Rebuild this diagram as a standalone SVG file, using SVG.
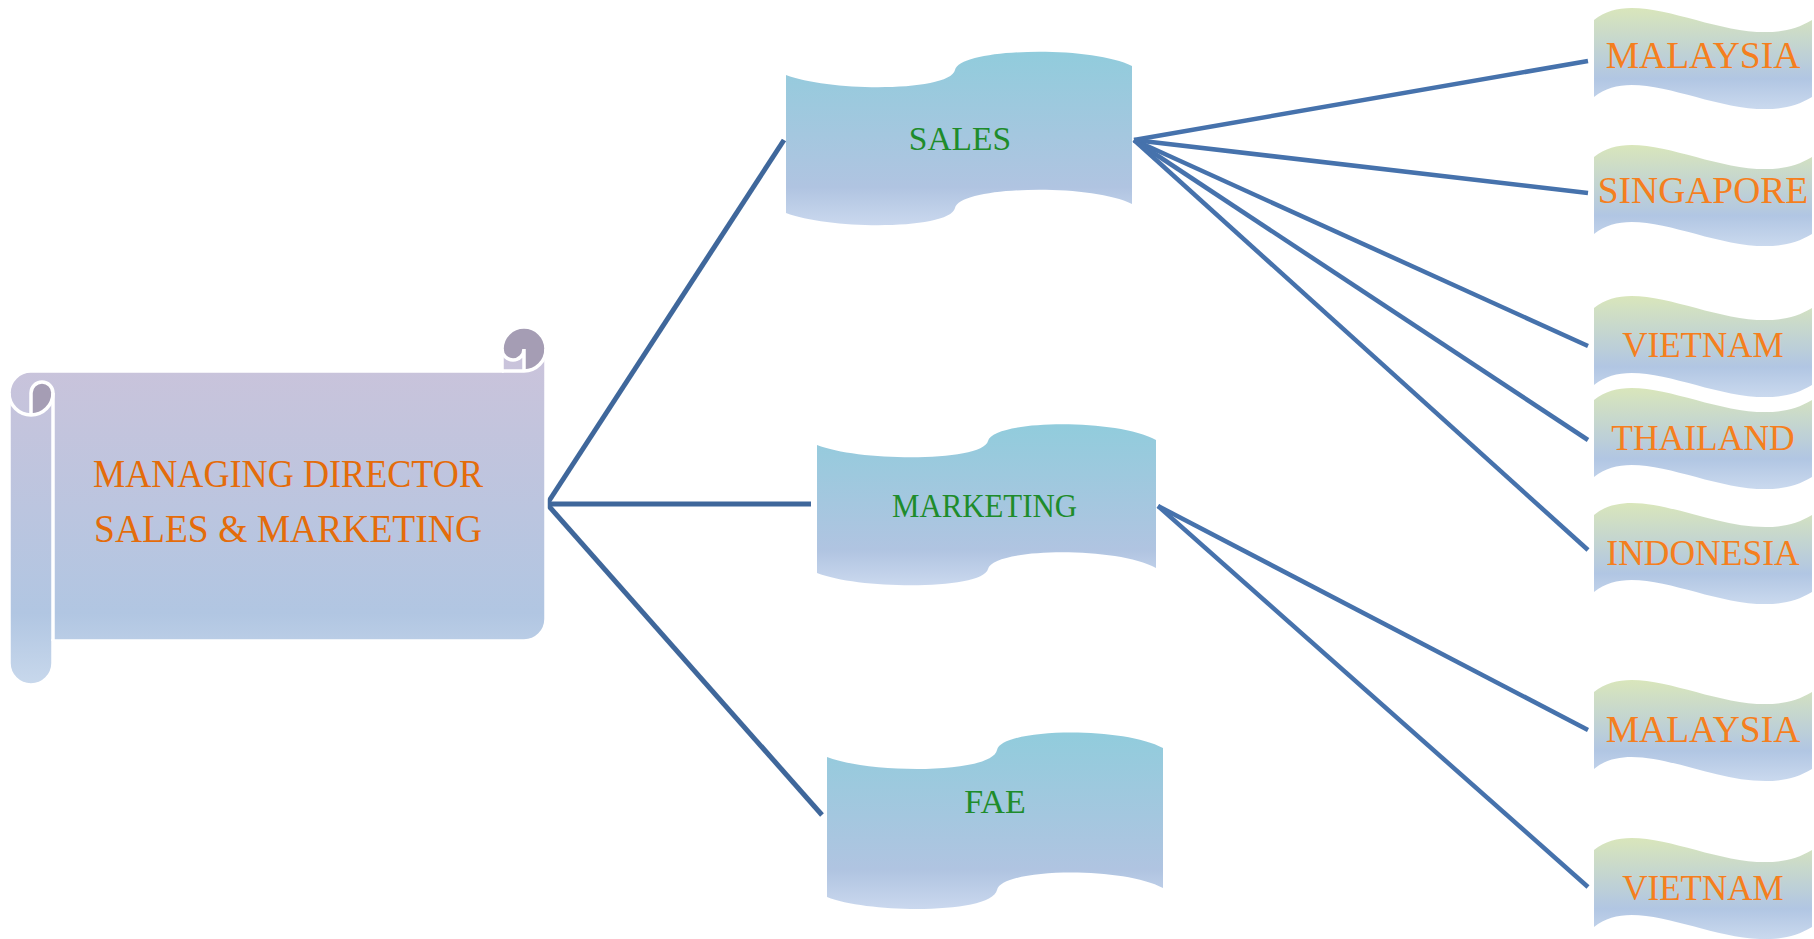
<svg xmlns="http://www.w3.org/2000/svg" width="1814" height="939" viewBox="0 0 1814 939">
<defs>
<linearGradient id="gScroll" gradientUnits="userSpaceOnUse" x1="0" y1="327" x2="0" y2="685">
<stop offset="0" stop-color="#CDC3DA"/>
<stop offset="0.8" stop-color="#B1C6E2"/>
<stop offset="1" stop-color="#C8D8EC"/>
</linearGradient>
<linearGradient id="gTape" x1="0" y1="0" x2="0" y2="1">
<stop offset="0" stop-color="#91CCDC"/>
<stop offset="0.78" stop-color="#B0C4E1"/>
<stop offset="1" stop-color="#CAD8EE"/>
</linearGradient>
<linearGradient id="gWave" x1="0" y1="0" x2="0" y2="1">
<stop offset="0" stop-color="#D9E6BB"/>
<stop offset="0.7" stop-color="#B1C6E3"/>
<stop offset="1" stop-color="#CAD9EE"/>
</linearGradient>
<style>
.md{font-family:"Liberation Serif","Times New Roman",serif;font-size:39px;fill:#E46C0A}
.dept{font-family:"Liberation Serif","Times New Roman",serif;fill:#1E8C2B;text-anchor:middle}
.cty{font-family:"Liberation Serif","Times New Roman",serif;fill:#F57F1E;text-anchor:middle}
.cL{stroke:#3F679B;stroke-width:5;fill:none}
.cR{stroke:#4672AC;stroke-width:4.5;fill:none}
.tape{fill:url(#gTape)}
.wave{fill:url(#gWave)}
.dark{fill:#A59DB4}
.ol{fill:none;stroke:#FFFFFF;stroke-width:3.5}
</style>
</defs>
<rect width="1814" height="939" fill="#FFFFFF"/>
<g id="connectors">
<path class="cL" d="M547,504 L784,140"/>
<path class="cL" d="M547,504 L811,504"/>
<path class="cL" d="M547,504 L822,815"/>
<path class="cR" d="M1134,140 L1588,61"/>
<path class="cR" d="M1134,140 L1588,193"/>
<path class="cR" d="M1134,140 L1588,346"/>
<path class="cR" d="M1134,140 L1588,440"/>
<path class="cR" d="M1134,140 L1588,550"/>
<path class="cR" d="M1158,506 L1588,730"/>
<path class="cR" d="M1158,506 L1588,887"/>
</g>
<g id="md">
<path fill="url(#gScroll)" d="M31,371 H502 V349 A22,22 0 0 1 546,349 V619 A22,22 0 0 1 524,641 H53 V663 A22,22 0 0 1 9,663 V393 A22,22 0 0 1 31,371 Z"/>
<path class="dark" d="M31,415 A22,22 0 0 0 53,393 A11,11 0 0 0 31,393 Z"/>
<path class="dark" d="M524,371 A22,22 0 1 0 502,349 A11,11 0 0 0 524,349 Z"/>
<path class="ol" d="M9,393 A22,22 0 0 1 31,371 H502 V349 A22,22 0 0 1 546,349 V619 A22,22 0 0 1 524,641 H53 V663 A22,22 0 0 1 9,663 Z"/>
<path class="ol" d="M502,371 H524 A22,22 0 0 0 546,349"/>
<path class="ol" d="M524,371 V349 A11,11 0 0 1 502,349"/>
<path class="ol" d="M31,415 V393 A11,11 0 0 1 53,393 A22,22 0 0 1 9,393"/>
<path class="ol" d="M53,393 V641"/>
<text class="md" x="93" y="487" textLength="390" lengthAdjust="spacingAndGlyphs">MANAGING DIRECTOR</text>
<text class="md" x="94" y="542" textLength="388" lengthAdjust="spacingAndGlyphs">SALES &amp; MARKETING</text>
</g>
<g id="sales">
<path class="tape" d="M786,75 C830,92 950,92 955,70 C960,48 1090,45 1132,66 L1132,204 C1090,183 960,186 955,208 C950,230 830,230 786,213 Z"/>
<text class="dept" x="960" y="150" font-size="33.5">SALES</text>
</g>
<g id="marketing">
<path class="tape" d="M817,445 C860,462 983,462 988,441 C993,420 1115,418 1156,440 L1156,568 C1115,546 993,548 988,569 C983,590 860,590 817,573 Z"/>
<text x="892" y="517" font-size="34" fill="#1E8C2B" font-family="Liberation Serif, Times New Roman, serif" textLength="185" lengthAdjust="spacingAndGlyphs">MARKETING</text>
</g>
<g id="fae">
<path class="tape" d="M827,757 C870,774 992,774 997,750 C1002,728 1122,726 1163,748 L1163,888 C1122,866 1002,868 997,890 C992,914 870,914 827,897 Z"/>
<text class="dept" x="995" y="813" font-size="34">FAE</text>
</g>
<g id="malaysia1">
<path class="wave" d="M1594,20 C1644,-22 1744,62 1812,20 L1812,97 C1744,139 1644,55 1594,97 Z"/>
<text class="cty" x="1703" y="68" font-size="37.5">MALAYSIA</text>
</g>
<g id="singapore">
<path class="wave" d="M1594,157 C1644,115 1744,199 1812,157 L1812,234 C1744,276 1644,192 1594,234 Z"/>
<text class="cty" x="1703" y="203" font-size="37.5">SINGAPORE</text>
</g>
<g id="vietnam1">
<path class="wave" d="M1594,308 C1644,266 1744,350 1812,308 L1812,385 C1744,427 1644,343 1594,385 Z"/>
<text class="cty" x="1703" y="357" font-size="35">VIETNAM</text>
</g>
<g id="thailand">
<path class="wave" d="M1594,400 C1644,358 1744,442 1812,400 L1812,477 C1744,519 1644,435 1594,477 Z"/>
<text class="cty" x="1703" y="450" font-size="35.5">THAILAND</text>
</g>
<g id="indonesia">
<path class="wave" d="M1594,515 C1644,473 1744,557 1812,515 L1812,592 C1744,634 1644,550 1594,592 Z"/>
<text class="cty" x="1703" y="565" font-size="35.5">INDONESIA</text>
</g>
<g id="malaysia2">
<path class="wave" d="M1594,692 C1644,650 1744,734 1812,692 L1812,769 C1744,811 1644,727 1594,769 Z"/>
<text class="cty" x="1703" y="742" font-size="37.5">MALAYSIA</text>
</g>
<g id="vietnam2">
<path class="wave" d="M1594,850 C1644,808 1744,892 1812,850 L1812,927 C1744,969 1644,885 1594,927 Z"/>
<text class="cty" x="1703" y="900" font-size="35">VIETNAM</text>
</g>
</svg>
